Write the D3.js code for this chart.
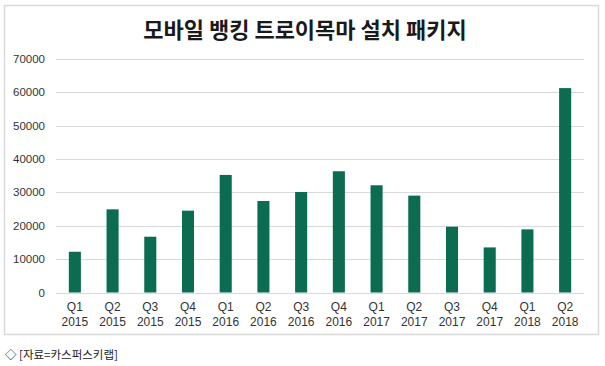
<!DOCTYPE html>
<html>
<head>
<meta charset="utf-8">
<script src="https://cdn.jsdelivr.net/npm/d3@7"></script>
<style>
html,body{margin:0;padding:0;background:#fff;}
svg{display:block;}
</style>
</head>
<body>
<svg id="chart" width="605" height="366"></svg>
<script>
const quarters = ["Q1","Q2","Q3","Q4","Q1","Q2","Q3","Q4","Q1","Q2","Q3","Q4","Q1","Q2"];
const years = ["2015","2015","2015","2015","2016","2016","2016","2016","2017","2017","2017","2017","2018","2018"];
const values = [12200,24900,16700,24500,35200,27400,30100,36300,32100,29000,19700,13500,18900,61200];
const yTicks = [0,10000,20000,30000,40000,50000,60000,70000];
const title = "모바일 뱅킹 트로이목마 설치 패키지";
const source = "◇ [자료=카스퍼스키랩]";

const svg = d3.select("#chart");
const labels = quarters.map((q,i)=>q+" "+years[i]);

// frame
svg.append("rect").attr("x",4.5).attr("y",5.5).attr("width",594).attr("height",329)
  .attr("fill","#fff").attr("stroke","#d9d9d9").attr("stroke-width",1.5);

const x = d3.scaleBand().domain(labels.map((l,i)=>i)).range([56,584]).paddingInner(0.68).paddingOuter(0.34);
const y = d3.scaleLinear().domain([0,70000]).range([292.5,58.7]);

// gridlines
svg.append("g").selectAll("line").data(yTicks).join("line")
  .attr("x1",56).attr("x2",584)
  .attr("y1",d=>Math.round(y(d))+0.5).attr("y2",d=>Math.round(y(d))+0.5)
  .attr("stroke","#d9d9d9").attr("stroke-width",1);

// y axis labels
const yAxis = d3.axisLeft(y).tickValues(yTicks).tickSize(0).tickPadding(0).tickFormat(d3.format("d"));
const yg = svg.append("g").attr("transform","translate(45,0)").call(yAxis);
yg.select(".domain").remove();
yg.selectAll("text").attr("font-family","Liberation Sans, Arial, sans-serif")
  .attr("font-size","11.5px").attr("fill","#333");

// bars
svg.append("g").selectAll("rect").data(values).join("rect")
  .attr("x",(d,i)=>x(i)).attr("width",x.bandwidth())
  .attr("y",d=>y(d)).attr("height",d=>y(0)-y(d))
  .attr("fill","#0c6c52");

// x axis labels
const xg = svg.append("g");
labels.forEach((l,i)=>{
  const cx = x(i)+x.bandwidth()/2;
  const t = xg.append("text").attr("x",cx).attr("text-anchor","middle")
    .attr("font-family","Liberation Sans, Arial, sans-serif").attr("font-size","12px").attr("fill","#333");
  t.append("tspan").attr("x",cx).attr("y",311).text(quarters[i]);
  t.append("tspan").attr("x",cx).attr("y",326).text(years[i]);
});

// title
svg.append("text").attr("x",305).attr("y",38).attr("text-anchor","middle")
  .attr("font-family","Noto Sans CJK KR, sans-serif").attr("font-weight","bold")
  .attr("font-size","22px").attr("fill","#1a1a1a").text(title);

// source
svg.append("text").attr("x",5).attr("y",359)
  .attr("font-family","Noto Sans CJK KR, sans-serif")
  .attr("font-size","11.5px").attr("fill","#222").text(source);
</script>
</body>
</html>
